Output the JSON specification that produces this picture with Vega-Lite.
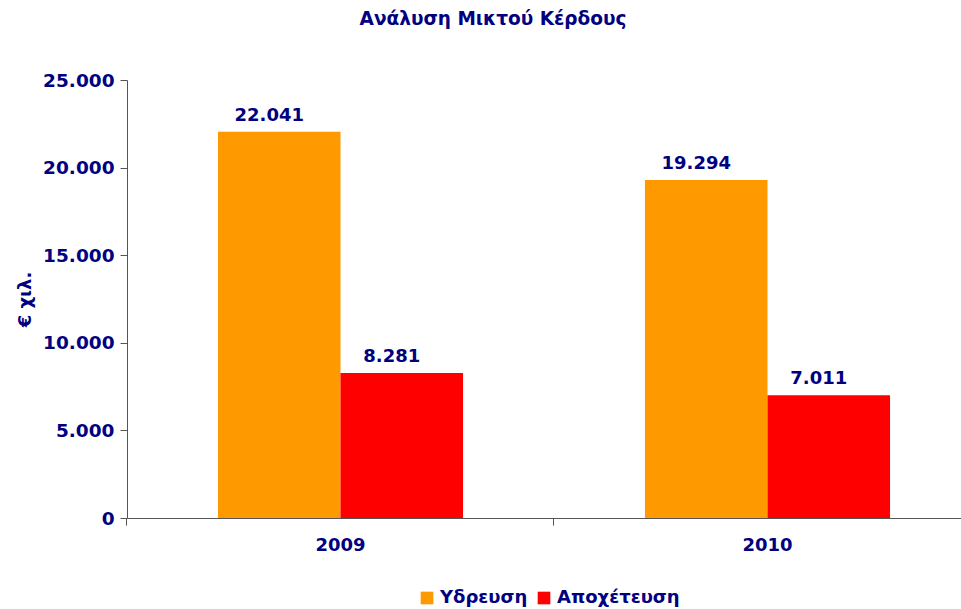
{
  "$schema": "https://vega.github.io/schema/vega-lite/v6.json",
  "autosize": "none",
  "width": 854,
  "height": 438,
  "padding": {"left": 127, "top": 80, "right": 0, "bottom": 91},
  "background": "white",
  "config": {
    "locale": {"number": {"decimal": ",", "thousands": ".", "grouping": [3], "currency": ["", " €"]}},
    "font": "DejaVu Sans",
    "view": {"stroke": null},
    "axis": {"grid": false, "domainColor": "#555555", "tickColor": "#555555", "labelColor": "#000080", "titleColor": "#000080", "labelFont": "DejaVu Sans", "titleFont": "DejaVu Sans", "labelFontWeight": "bold", "titleFontWeight": "bold"}
  },
  "title": {
    "text": "Ανάλυση Μικτού Κέρδους",
    "font": "DejaVu Sans",
    "fontSize": 18.5,
    "fontWeight": "bold",
    "color": "#000080",
    "anchor": "middle",
    "dx": -61,
    "offset": 43
  },
  "data": {
    "values": [
      {"year": "2009", "series": "Υδρευση", "value": 22041},
      {"year": "2009", "series": "Αποχέτευση", "value": 8281},
      {"year": "2010", "series": "Υδρευση", "value": 19294},
      {"year": "2010", "series": "Αποχέτευση", "value": 7011}
    ]
  },
  "encoding": {
    "x": {"field": "year", "type": "nominal", "scale": {"paddingInner": 0.426, "paddingOuter": 0.213}},
    "xOffset": {"field": "series", "type": "nominal", "sort": ["Υδρευση", "Αποχέτευση"], "scale": {"paddingInner": 0, "paddingOuter": 0}},
    "y": {"field": "value", "type": "quantitative"}
  },
  "layer": [
    {
      "mark": {"type": "bar"},
      "encoding": {
        "x": {"field": "year", "type": "nominal", "scale": {"paddingInner": 0.426, "paddingOuter": 0.213},
          "axis": {"title": null, "labelAngle": 0, "labelFontSize": 18, "labelPadding": 18, "ticks": false, "domain": true}},
        "y": {"field": "value", "type": "quantitative",
          "scale": {"domain": [0, 25000], "nice": false},
          "axis": {"title": "€ χιλ.", "titleFontSize": 18, "titleX": -93, "titleY": 219, "values": [0, 5000, 10000, 15000, 20000, 25000], "format": ",d", "labelFontSize": 18.5, "labelPadding": 6, "tickSize": 7}},
        "color": {"field": "series", "type": "nominal", "sort": ["Υδρευση", "Αποχέτευση"],
          "scale": {"domain": ["Υδρευση", "Αποχέτευση"], "range": ["#FF9900", "#FF0000"]},
          "legend": {"title": null, "orient": "none", "legendX": 291, "legendY": 509, "direction": "horizontal", "symbolType": "square", "symbolSize": 160, "symbolOpacity": 1, "symbolStrokeWidth": 0, "labelFontSize": 18, "labelFontWeight": "bold", "labelColor": "#000080", "labelFont": "DejaVu Sans", "columnPadding": 7, "labelOffset": 4}}
      }
    },
    {
      "mark": {"type": "text", "baseline": "alphabetic", "dx": -10, "dy": -11, "fontSize": 18, "fontWeight": "bold", "color": "#000080", "font": "DejaVu Sans"},
      "encoding": {
        "x": {"field": "year", "type": "nominal", "scale": {"paddingInner": 0.426, "paddingOuter": 0.213},
          "axis": {"title": null, "labels": false, "domain": false, "ticks": true, "tickSize": 7, "bandPosition": -0.372, "orient": "bottom"}},
        "text": {"field": "value", "type": "quantitative", "format": ",d"}
      }
    }
  ],
  "resolve": {"axis": {"x": "independent"}}
}
